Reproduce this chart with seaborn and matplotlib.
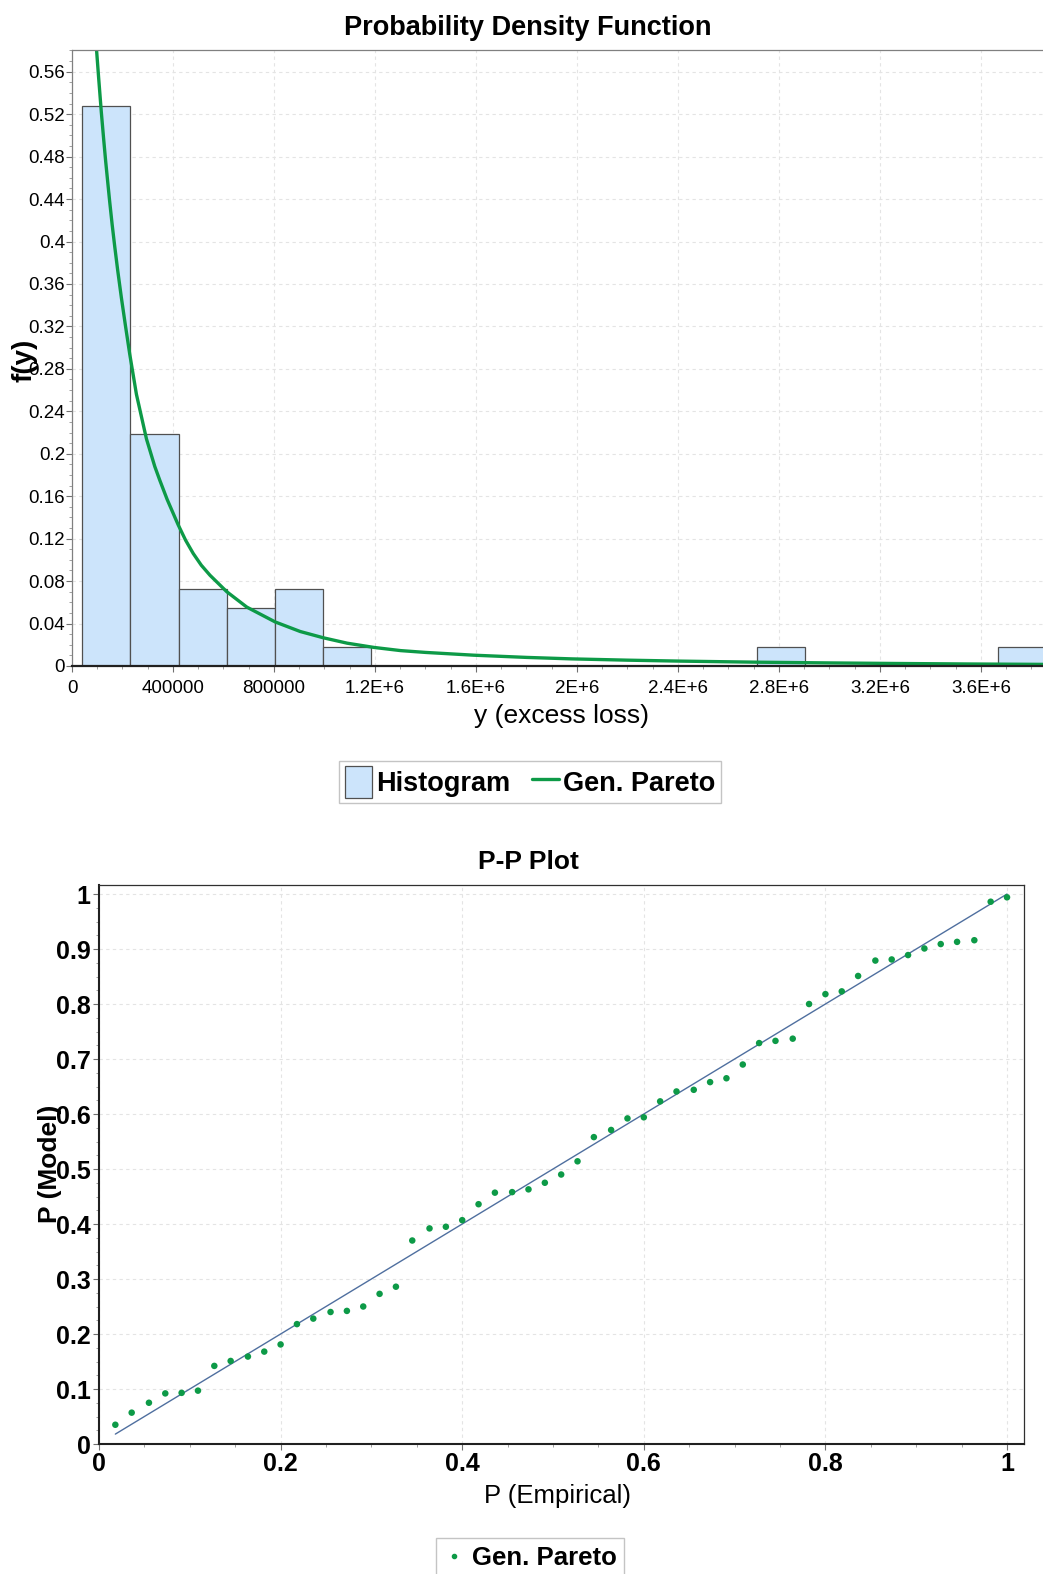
import pandas as pd
import matplotlib
matplotlib.use("Agg")
import matplotlib.pyplot as plt
import seaborn as sns
from matplotlib.patches import Patch
from matplotlib.lines import Line2D
from matplotlib.ticker import MultipleLocator, FuncFormatter

sns.set_style("white")
plt.rcParams['font.family'] = ['Liberation Sans', 'DejaVu Sans']
plt.rcParams['text.color'] = 'black'
plt.rcParams['xtick.color'] = 'black'
plt.rcParams['ytick.color'] = 'black'

# histogram of excess losses (55 observations, 20 bins)
n_obs = 55
bin_start = 40000
bin_width = 191000
bin_counts = [29, 12, 4, 3, 4, 1, 0, 0, 0, 0, 0, 0, 0, 0, 1, 0, 0, 0, 0, 1]

# fitted Gen. Pareto curve
pdf_x = [91.4e3, 97.4e3, 105.3e3, 116.1e3, 125.2e3, 133.2e3, 141.1e3, 149.1e3,
         159e3, 168.9e3, 180.9e3, 195.6e3, 211.5e3, 228.6e3, 255.2e3, 294.9e3,
         327.9e3, 347.8e3, 376.8e3, 420.6e3, 450e3, 480.2e3, 512e3, 546.6e3,
         613e3, 692.4e3, 805e3, 904e3, 997e3, 1.09e6, 1.196e6, 1.302e6, 1.4e6,
         1.59e6, 1.8e6, 1.98e6, 2.2e6, 2.41e6, 2.71e6, 3.0e6, 3.25e6, 3.55e6, 3.87e6]
pdf_y = [0.600, 0.580, 0.555, 0.522, 0.497, 0.476, 0.457, 0.438,
         0.416, 0.396, 0.373, 0.347, 0.321, 0.294, 0.256, 0.214,
         0.188, 0.175, 0.157, 0.133, 0.1185, 0.106, 0.0950, 0.0855,
         0.0700, 0.0555, 0.0415, 0.0325, 0.0265, 0.0215, 0.0175, 0.0145, 0.0128,
         0.0102, 0.0081, 0.0067, 0.0055, 0.0046, 0.0036, 0.0029, 0.0024, 0.0019, 0.0015]

# P-P plot
pp_emp = [0.018, 0.036, 0.055, 0.073, 0.091, 0.109, 0.127, 0.145, 0.164, 0.182,
          0.2, 0.218, 0.236, 0.255, 0.273, 0.291, 0.309, 0.327, 0.345, 0.364,
          0.382, 0.4, 0.418, 0.436, 0.455, 0.473, 0.491, 0.509, 0.527, 0.545,
          0.564, 0.582, 0.6, 0.618, 0.636, 0.655, 0.673, 0.691, 0.709, 0.727,
          0.745, 0.764, 0.782, 0.8, 0.818, 0.836, 0.855, 0.873, 0.891, 0.909,
          0.927, 0.945, 0.964, 0.982, 1.0]
pp_model = [0.035, 0.057, 0.075, 0.092, 0.093, 0.097, 0.142, 0.151, 0.159, 0.168,
            0.181, 0.218, 0.228, 0.240, 0.242, 0.250, 0.273, 0.286, 0.370, 0.392,
            0.395, 0.407, 0.436, 0.457, 0.458, 0.463, 0.475, 0.490, 0.514, 0.558,
            0.571, 0.592, 0.594, 0.623, 0.641, 0.644, 0.658, 0.665, 0.690, 0.729,
            0.733, 0.737, 0.800, 0.818, 0.823, 0.851, 0.879, 0.881, 0.889, 0.901,
            0.909, 0.913, 0.916, 0.986, 0.994]

GREEN = '#0d9a47'
BLUE_FILL = '#cce4fb'
GRID = '#e4e4e4'

W, H = 1043, 1574
fig = plt.figure(figsize=(W / 100, H / 100), dpi=100)

def fx(px):
    return px / W

def fy(py):
    return 1 - py / H

# ---------- top: PDF ----------
ax1 = fig.add_axes([fx(72), fy(666), fx(W - 72), (666 - 50.5) / H])
edges = [bin_start + bin_width * i for i in range(len(bin_counts) + 1)]
hist_df = pd.DataFrame({
    'y': [(edges[i] + edges[i + 1]) / 2 for i in range(len(bin_counts))],
    'freq': [c / n_obs for c in bin_counts],
})
sns.histplot(data=hist_df, x='y', weights='freq', bins=edges, ax=ax1,
             color=BLUE_FILL, edgecolor='#505050', linewidth=0.9, alpha=1)
sns.lineplot(x=pdf_x, y=pdf_y, ax=ax1, color=GREEN, linewidth=2.4,
             estimator=None, sort=False)
ax1.set_xlim(0, 3.846e6)
ax1.set_ylim(0, 0.58)
ax1.xaxis.set_major_locator(MultipleLocator(400000))
ax1.xaxis.set_minor_locator(MultipleLocator(100000))
ax1.yaxis.set_major_locator(MultipleLocator(0.04))
ax1.yaxis.set_minor_locator(MultipleLocator(0.01))

def xfmt(v, pos):
    if v < 1e6 - 1:
        return f"{int(round(v))}"
    m = v / 1e6
    s = f"{m:.1f}".rstrip('0').rstrip('.')
    return f"{s}E+6"

def yfmt(v, pos):
    if abs(v) < 1e-9:
        return "0"
    return f"{v:.2f}".rstrip('0').rstrip('.')

ax1.xaxis.set_major_formatter(FuncFormatter(xfmt))
ax1.yaxis.set_major_formatter(FuncFormatter(yfmt))
ax1.tick_params(axis='both', which='major', direction='out', length=4, width=0.8,
                labelsize=13.5, color='#707070', pad=1, left=True, bottom=True)
ax1.tick_params(axis='both', which='minor', direction='out', length=2, width=0.6,
                color='#909090', left=True, bottom=True)
ax1.tick_params(axis='x', pad=6)
ax1.grid(True, which='major', color=GRID, linestyle=(0, (3, 3)), linewidth=0.8)
ax1.set_axisbelow(True)
ax1.set_xlabel('')
ax1.set_ylabel('')
ax1.spines['right'].set_visible(False)
for s in ['top', 'left']:
    ax1.spines[s].set_color('#808080')
    ax1.spines[s].set_linewidth(0.9)
ax1.spines['bottom'].set_color('#202020')
ax1.spines['bottom'].set_linewidth(1.6)

fig.text(fx(528), fy(28), 'Probability Density Function', ha='center', va='center',
         fontsize=19.5, fontweight='bold')
fig.text(fx(24), fy(360), 'f(y)', ha='center', va='center', rotation=90,
         fontsize=20, fontweight='bold')
fig.text(fx(561), fy(716), 'y (excess loss)', ha='center', va='center', fontsize=19)

handles1 = [Patch(facecolor=BLUE_FILL, edgecolor='#505050', linewidth=0.9),
            Line2D([0], [0], color=GREEN, linewidth=2.4)]
leg1 = fig.legend(handles1, ['Histogram', 'Gen. Pareto'], loc='center',
                  bbox_to_anchor=(fx(530), fy(782)), ncol=2, frameon=True,
                  fancybox=False, framealpha=1, edgecolor='#c4c4c4',
                  prop={'weight': 'bold', 'size': 19.5},
                  handlelength=1.0, handleheight=1.4, handletextpad=0.15,
                  columnspacing=0.8, borderpad=0.2, borderaxespad=0)
leg1.get_frame().set_linewidth(1.0)

# ---------- bottom: P-P plot ----------
ax2 = fig.add_axes([fx(99), fy(1444), fx(1024 - 99), (1444 - 885) / H])
sns.lineplot(x=[pp_emp[0], pp_emp[-1]], y=[pp_emp[0], pp_emp[-1]], ax=ax2,
             color='#4f6f9f', linewidth=1.0)
sns.scatterplot(x=pp_emp, y=pp_model, ax=ax2, color=GREEN, s=22,
                edgecolor='none', zorder=3)
ax2.set_xlim(0, 1.0187)
ax2.set_ylim(0, 1.0164)
ax2.xaxis.set_major_locator(MultipleLocator(0.2))
ax2.xaxis.set_minor_locator(MultipleLocator(0.05))
ax2.yaxis.set_major_locator(MultipleLocator(0.1))
ax2.yaxis.set_minor_locator(MultipleLocator(0.025))
ax2.xaxis.set_major_formatter(FuncFormatter(yfmt))
ax2.yaxis.set_major_formatter(FuncFormatter(yfmt))
ax2.tick_params(axis='both', which='major', direction='out', length=4, width=0.8,
                labelsize=18, color='#707070', pad=2, left=True, bottom=True)
ax2.tick_params(axis='both', which='minor', direction='out', length=2, width=0.6,
                color='#909090', left=True, bottom=True)
for lab in ax2.get_xticklabels() + ax2.get_yticklabels():
    lab.set_fontweight('bold')
ax2.grid(True, which='major', color=GRID, linestyle=(0, (3, 3)), linewidth=0.8)
ax2.set_axisbelow(True)
ax2.set_xlabel('')
ax2.set_ylabel('')
for s in ['top', 'right']:
    ax2.spines[s].set_color('#303030')
    ax2.spines[s].set_linewidth(0.9)
for s in ['bottom', 'left']:
    ax2.spines[s].set_color('#202020')
    ax2.spines[s].set_linewidth(1.5)

fig.text(fx(528), fy(862), 'P-P Plot', ha='center', va='center',
         fontsize=19, fontweight='bold')
fig.text(fx(558), fy(1496), 'P (Empirical)', ha='center', va='center', fontsize=18.5)
fig.text(fx(50), fy(1164), 'P (Model)', ha='center', va='center', rotation=90,
         fontsize=19, fontweight='bold')

handles2 = [Line2D([0], [0], marker='.', color=GREEN, linestyle='none', markersize=6)]
leg2 = fig.legend(handles2, ['Gen. Pareto'], loc='upper center',
                  bbox_to_anchor=(fx(530), fy(1538)), frameon=True,
                  fancybox=False, framealpha=1, edgecolor='#c4c4c4',
                  prop={'weight': 'bold', 'size': 18.5},
                  handlelength=0.8, handletextpad=0.3, borderpad=0.3,
                  borderaxespad=0)
leg2.get_frame().set_linewidth(1.0)

fig.savefig('out.png', dpi=100)
